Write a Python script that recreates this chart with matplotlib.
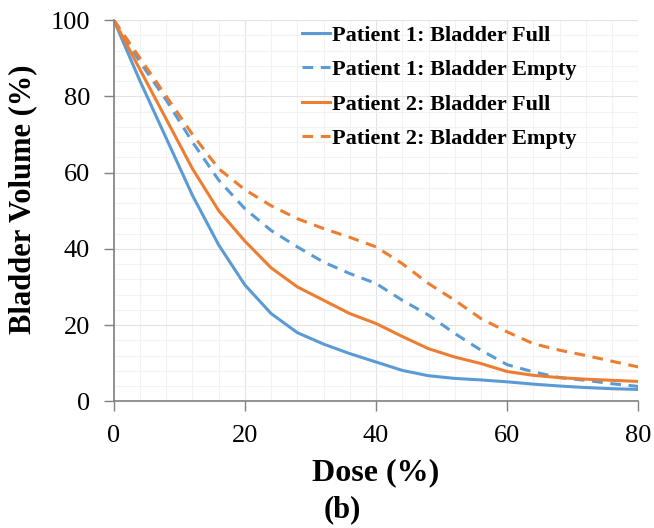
import numpy as np
import matplotlib
matplotlib.use('Agg')
import matplotlib.pyplot as plt
from matplotlib.ticker import MultipleLocator

# dose (%) and bladder volume (%)
dose = [0, 4, 8, 12, 16, 20, 24, 28, 32, 36, 40, 44, 48, 52, 56, 60, 64, 68, 72, 76, 80]
p1_full = [100, 84, 69, 54, 41, 30.5, 23, 18, 15, 12.5, 10.3, 8.1, 6.7, 6.0, 5.6,
           5.1, 4.5, 4.0, 3.6, 3.3, 3.1]
p1_empty = [100, 89, 79, 68, 58, 50.5, 44.8, 40.5, 36.5, 33.5, 30.9, 26.5, 22.6, 17.8,
            13.4, 9.6, 7.7, 6.2, 5.5, 4.6, 3.9]
p2_full = [100, 87, 74, 61, 50, 42, 35, 30, 26.5, 23, 20.4, 17, 13.8, 11.6, 9.9,
           7.8, 6.8, 6.2, 5.8, 5.5, 5.2]
p2_empty = [100, 90, 80, 70, 61, 55.5, 51.3, 47.9, 45.3, 43, 40.5, 36.1, 30.9, 26.5,
            21.7, 18.2, 15.1, 13.4, 12, 10.5, 9.0]

labels = ['Patient 1: Bladder Full', 'Patient 1: Bladder Empty',
          'Patient 2: Bladder Full', 'Patient 2: Bladder Empty']

blue = '#5B9BD5'
orange = '#ED7D31'

plt.rcParams['font.family'] = 'Liberation Serif'

fig = plt.figure(figsize=(6.54, 5.28), dpi=100)
ax = fig.add_axes([0.174, 0.24, 0.802, 0.722])

dash = (0, (3.5, 2.5))
ax.plot(dose, p1_full, color=blue, lw=2.2, label=labels[0])
ax.plot(dose, p1_empty, color=blue, lw=2.2, ls=dash, label=labels[1])
ax.plot(dose, p2_full, color=orange, lw=2.2, label=labels[2])
ax.plot(dose, p2_empty, color=orange, lw=2.2, ls=dash, label=labels[3])

ax.set_xlim(0, 80)
ax.set_ylim(0, 100)
ax.xaxis.set_major_locator(MultipleLocator(20))
ax.yaxis.set_major_locator(MultipleLocator(20))
ax.xaxis.set_minor_locator(MultipleLocator(4))
ax.yaxis.set_minor_locator(MultipleLocator(4))
ax.grid(which='major', color='#e3e3e3', lw=0.8)
ax.grid(which='minor', color='#f2f2f2', lw=0.8)
ax.set_axisbelow(True)
for s in ['top', 'right']:
    ax.spines[s].set_visible(False)
for s in ['left', 'bottom']:
    ax.spines[s].set_color('#808080')
    ax.spines[s].set_linewidth(1.2)
ax.tick_params(which='major', direction='out', length=7, width=1, color='#808080',
               labelsize=19, pad=10)
ax.tick_params(which='minor', length=0)

ax.set_xlabel('Dose (%)', fontsize=23, fontweight='bold', labelpad=8)
ax.set_ylabel('Bladder Volume (%)', fontsize=22, fontweight='bold', labelpad=10)
ax.yaxis.label.set_y(0.53)
fig.text(0.523, 0.02, '(b)', fontsize=22, fontweight='bold', ha='center')

ax.legend(loc='upper left', bbox_to_anchor=(0.462, 0.952), bbox_transform=fig.transFigure,
          frameon=False, prop={'size': 16, 'weight': 'bold'}, handlelength=1.25,
          handletextpad=0.08, labelspacing=0.62, borderpad=0, borderaxespad=0)

fig.savefig('out.png', dpi=100)
